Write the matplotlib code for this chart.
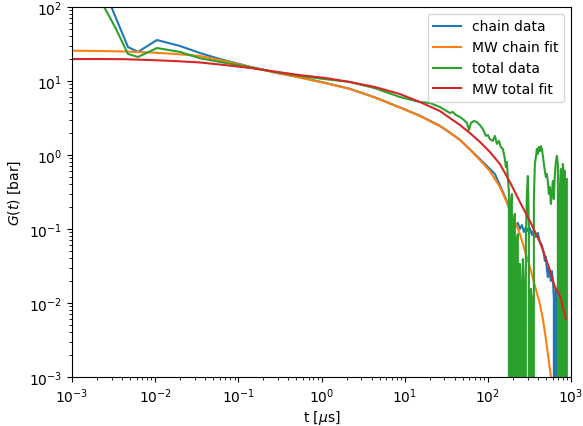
import matplotlib.pyplot as plt

# chain data (blue)
t_chain = [0.002, 0.00329, 0.00471, 0.00621, 0.0105, 0.0199, 0.0345, 0.0601, 0.138, 0.275,
           0.55, 1.1, 2.19, 4.38, 8.75, 15.2, 26.5, 46.3, 80.2, 92.0, 105.7, 121.4, 139.4,
           151.5, 164.6, 174.0, 183.9, 194.3, 199.8, 205.4, 217.1, 229.4, 242.5, 256.3,
           270.9, 286.3, 302.6, 319.8, 338.0, 357.3, 377.6, 399.1, 421.8, 445.8, 471.2,
           484.5, 498.0, 512.0, 526.4, 541.2, 556.3, 572.0, 588.0, 604.5, 621.5, 638.9,
           656.8, 675.3, 694.2, 713.7, 733.7, 754.3, 775.5, 797.2, 819.6, 842.6, 866.3]
g_chain = [297, 76, 28.8, 24.7, 35.8, 29.7, 23.9, 19.8, 15.6, 13.1,
           11.2, 9.45, 7.85, 6.0, 4.4, 3.4, 2.48, 1.6, 0.88, 0.756, 0.647, 0.554, 0.393,
           0.316, 0.254, 0.211, 0.181, 0.155, 0.128, 0.141, 0.11, 0.121, 0.1, 0.113,
           0.0912, 0.106, 0.094, 0.103, 0.083, 0.097, 0.078, 0.0883, 0.0667, 0.0608, 0.0459,
           0.037, 0.0419, 0.0288, 0.0224, 0.0306, 0.0247, 0.0198, 0.027, 0.0211, 0.0113, -0.01,
           0.0155, -0.01, 0.0181, 0.0145, 0.0164, 0.0128, 0.0113, 0.0094, 0.0078, 0.0065, 0.0054]

# total data (green)
t_total = [0.002, 0.00329, 0.00471, 0.00621, 0.0105, 0.0199, 0.0345, 0.0601, 0.138, 0.275,
           0.55, 1.1, 2.19, 4.38, 8.75, 15.2, 20.1, 26.5, 30.4, 34.9, 37.9, 41.2, 46.3,
           51.5, 56.0, 59.2, 62.6, 67.9, 73.8, 80.2, 87.1, 94.6, 100, 105.7, 114.8, 121.4,
           128.3, 135.6, 143.3,
           151.5, 160.1, 164.6, 169.2, 174.0, 178.9, 183.9, 189.0, 194.3, 199.8, 205.4,
           211.2, 217.1, 223.2, 229.4, 235.9, 242.5, 249.3, 256.3, 263.5, 270.9, 278.5,
           286.3, 294.3, 302.6, 311.1, 319.8, 328.8, 338.0, 347.5, 357.3, 367.3, 377.6,
           388.2, 399.1, 410.3, 421.8, 433.7, 445.8, 458.4, 471.2, 484.5, 498.0, 512.0,
           526.4, 541.2, 556.3, 572.0, 588.0, 604.5, 621.5, 638.9, 656.8, 675.3, 694.2,
           713.7, 733.7, 754.3, 775.5, 797.2, 819.6, 842.6, 866.3, 890.6]
g_total = [150, 53.7, 23.2, 21.1, 27.9, 24.7, 20.3, 18.1, 15.3, 13.2,
           11.7, 10.6, 9.7, 8.0, 6.08, 5.2, 5.04, 4.45, 4.06, 3.70, 3.81, 3.47, 3.26,
           2.97, 2.71, 2.18, 2.71, 2.88, 2.79, 2.54, 2.25, 1.81, 1.86, 1.64, 1.55, 1.81,
           1.41, 1.55, 1.28,
           1.205, 0.883, 0.689, 0.804, 0.474, 0.326, -0.05, 0.218, 0.297, -0.05, 0.117,
           0.16, -0.05, 0.0733, 0.0856, -0.05, 0.0337, -0.05, 0.0155, 0.0393, 0.0181, -0.05,
           0.0733, 0.297, 0.52, 0.1, -0.05, 0.0155, 0.0113, -0.05, 0.254, 0.756, 0.94,
           1.205, 1.03, 1.28, 1.13, 1.32, 1.205, 0.97, 0.756, 0.608, 0.504, 0.554,
           0.432, 0.297, 0.37, 0.218, 0.297, 0.445, 0.254, 0.554, 0.804, 0.97, 0.756,
           -0.05, 0.297, 0.647, -0.05, 0.756, 0.554, 0.608, -0.05, 0.474]

# Maxwell fits
t_fit = [0.001, 0.00216, 0.00431, 0.00866, 0.0173, 0.0345, 0.0691, 0.138, 0.275, 0.55,
         1.1, 2.19, 4.38, 8.75, 15.2, 26.5, 34.9, 46.3, 60.8, 80.2, 105.7, 139.4, 183.9,
         242.5, 319.8, 421.8, 458.4, 498.0, 541.2, 588.0, 638.9, 733.7, 866.3]
g_chain_fit = [25.7, 25.4, 25.0, 24.3, 23.2, 21.8, 18.6, 15.5, 13.0, 11.1,
               9.4, 7.8, 5.98, 4.38, 3.37, 2.46, 2.01, 1.59, 1.19, 0.856, 0.608, 0.37, 0.186,
               0.0856, 0.0306, 0.0097, 0.00608, 0.00327, 0.00164, 0.0008, 0.0003, 0.00005, 0.000005]
g_total_fit = [19.8, 19.8, 19.7, 19.2, 18.6, 17.8, 16.4, 15.0, 13.4, 12.0,
               11.0, 9.7, 8.3, 6.67, 5.2, 3.93, 3.16, 2.54, 1.98, 1.5, 1.1, 0.756, 0.432,
               0.232, 0.128, 0.0667, 0.052, 0.0395, 0.0305, 0.0225, 0.0165, 0.0125, 0.0061]

fig = plt.figure(figsize=(5.83, 4.27), dpi=100)
ax = fig.add_axes([0.1235, 0.1148, 0.856, 0.8665])

ax.plot(t_chain, g_chain, label='chain data')
ax.plot(t_fit, g_chain_fit, label='MW chain fit')
ax.plot(t_total, g_total, label='total data')
ax.plot(t_fit, g_total_fit, label='MW total fit')

ax.set_xscale('log')
ax.set_yscale('log')
ax.set_xlim(1e-3, 1e3)
ax.set_ylim(1e-3, 1e2)
ax.set_xlabel(r't [$\mu$s]', labelpad=2)
ax.set_ylabel(r'$G(t)$ [bar]')
ax.legend(loc='upper right')

fig.savefig('out.png', dpi=100)
